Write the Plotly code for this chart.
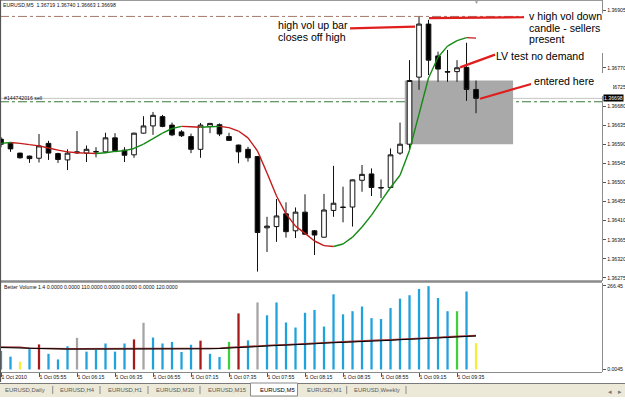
import plotly.graph_objects as go

# ---------------- data ----------------
bar_index = list(range(51))

opens = [1.36602, 1.36592, 1.36569, 1.36562, 1.36557, 1.36592, 1.36568, 1.36553, 1.36572, 1.36569,
         1.36573, 1.36572, 1.36605, 1.36576, 1.36565, 1.36616, 1.36633, 1.36655, 1.36635, 1.36619,
         1.36608, 1.36578, 1.36632, 1.36636, 1.36608, 1.36588, 1.36578, 1.36561, 1.36393, 1.36396,
         1.36426, 1.36386, 1.36430, 1.36386, 1.36371, 1.36434, 1.36442, 1.36442, 1.36505, 1.36520,
         1.36488, 1.36488, 1.36569, 1.36590, 1.36748, 1.36873, 1.36798, 1.36761, 1.36761, 1.36771,
         1.36719]
highs = [1.36607, 1.36594, 1.36570, 1.36563, 1.36614, 1.36598, 1.36570, 1.36578, 1.36621, 1.36587,
         1.36583, 1.36617, 1.36616, 1.36583, 1.36617, 1.36656, 1.36666, 1.36659, 1.36641, 1.36623,
         1.36615, 1.36640, 1.36640, 1.36639, 1.36617, 1.36589, 1.36584, 1.36562, 1.36419, 1.36461,
         1.36453, 1.36441, 1.36472, 1.36388, 1.36473, 1.36539, 1.36490, 1.36507, 1.36541, 1.36533,
         1.36507, 1.36580, 1.36641, 1.36788, 1.36890, 1.36883, 1.36808, 1.36812, 1.36788, 1.36829,
         1.36740]
lows = [1.36583, 1.36572, 1.36556, 1.36546, 1.36547, 1.36553, 1.36546, 1.36529, 1.36567, 1.36548,
        1.36559, 1.36569, 1.36572, 1.36548, 1.36558, 1.36615, 1.36612, 1.36630, 1.36609, 1.36607,
        1.36569, 1.36558, 1.36616, 1.36609, 1.36598, 1.36545, 1.36549, 1.36290, 1.36336, 1.36360,
        1.36370, 1.36369, 1.36377, 1.36329, 1.36370, 1.36419, 1.36406, 1.36396, 1.36478, 1.36468,
        1.36463, 1.36488, 1.36565, 1.36576, 1.36718, 1.36753, 1.36737, 1.36737, 1.36737, 1.36692,
        1.36663]
closes = [1.36590, 1.36579, 1.36558, 1.36556, 1.36586, 1.36569, 1.36554, 1.36569, 1.36570, 1.36578,
          1.36572, 1.36605, 1.36575, 1.36564, 1.36616, 1.36633, 1.36658, 1.36632, 1.36612, 1.36610,
          1.36578, 1.36635, 1.36639, 1.36614, 1.36599, 1.36572, 1.36558, 1.36382, 1.36397, 1.36421,
          1.36384, 1.36430, 1.36378, 1.36376, 1.36435, 1.36451, 1.36441, 1.36506, 1.36519, 1.36488,
          1.36487, 1.36565, 1.36590, 1.36740, 1.36873, 1.36788, 1.36767, 1.36760, 1.36770, 1.36719,
          1.36698]

ma_values = [1.36592, 1.36594, 1.36592, 1.36589, 1.36586, 1.36581, 1.36576, 1.36572, 1.36570, 1.36569,
             1.36568, 1.36570, 1.36573, 1.36575, 1.36580, 1.36590, 1.36603, 1.36616, 1.36627, 1.36632,
             1.36631, 1.36630, 1.36631, 1.36632, 1.36629, 1.36621, 1.36605, 1.36574, 1.36522, 1.36468,
             1.36426, 1.36397, 1.36380, 1.36362, 1.36351, 1.36349, 1.36355, 1.36371, 1.36395, 1.36423,
             1.36456, 1.36488, 1.36517, 1.36576, 1.36661, 1.36746, 1.36795, 1.36821, 1.36834, 1.36841,
             1.36840]

volumes = [59, 41, 25, 65, 80, 50, 32, 74, 101, 57,
           63, 83, 57, 83, 96, 149, 102, 83, 88, 56,
           79, 92, 50, 40, 88, 179, 93, 214, 173, 214,
           150, 134, 181, 190, 137, 240, 176, 186, 201, 164,
           161, 196, 226, 237, 257, 266, 228, 186, 186, 249,
           84]
vol_signal = ["neutral", "neutral", "low", "neutral", "climax_up", "neutral", "neutral", "neutral", "climax_down", "neutral",
              "neutral", "neutral", "neutral", "neutral", "climax_up", "climax_down", "neutral", "neutral", "neutral", "neutral",
              "neutral", "climax_up", "neutral", "neutral", "churn", "climax_up", "neutral", "climax_down", "neutral", "neutral",
              "neutral", "neutral", "neutral", "neutral", "neutral", "neutral", "neutral", "neutral", "neutral", "neutral",
              "neutral", "neutral", "neutral", "neutral", "neutral", "neutral", "neutral", "neutral", "churn", "neutral",
              "low"]
vol_avg_black = [70, 69, 68, 67, 66, 66, 66, 65, 65, 65, 65, 65, 64, 64, 64, 65, 65, 65, 66, 66,
                 66, 66, 66, 67, 68, 70, 71, 73, 75, 76, 77, 79, 80, 82, 84, 85, 87, 88, 89, 91,
                 92, 93, 95, 96, 98, 99, 101, 102, 104, 105, 107]
vol_avg_red = [72, 72, 71, 68, 67, 67, 67, 66, 66, 66, 66, 66, 66, 66, 66, 67, 67, 67, 67, 67,
               67, 67, 67, 68, 70, 72, 73, 75, 77, 78, 79, 81, 82, 84, 86, 87, 88, 90, 91, 92,
               94, 95, 96, 98, 99, 101, 102, 104, 105, 107, 108]

time_tick_bars = [0, 4, 8, 12, 16, 20, 24, 28, 32, 36, 40, 44, 48]
time_tick_labels = ["1 Oct 2010", "1 Oct 05:55", "1 Oct 06:15", "1 Oct 06:35", "1 Oct 06:55",
                    "1 Oct 07:15", "1 Oct 07:35", "1 Oct 07:55", "1 Oct 08:15", "1 Oct 08:35",
                    "1 Oct 08:55", "1 Oct 09:15", "1 Oct 09:35"]
price_ticks = [1.36275, 1.36320, 1.36365, 1.36410, 1.36455, 1.36500, 1.36545, 1.36590,
               1.36635, 1.36680, 1.36725, 1.36770, 1.36815, 1.36860, 1.36905]
vol_tick_vals = [0, 266.45]
vol_tick_labels = ["0.0045", "266.45"]
tab_names = ["EURUSD,Daily", "EURUSD,H4", "EURUSD,H1", "EURUSD,M30", "EURUSD,M15",
             "EURUSD,M5", "EURUSD,M1", "EURUSD,Weekly"]

title_text = "EURUSD,M5  1.36719 1.36740 1.36663 1.36698"
indicator_text = "Better Volume 1.4 0.0000 0.0000 110.0000 0.0000 0.0000 0.0000 120.0000"
order_text = "#144742016 sell"
bid_price = 1.36698
order_price = 1.36690
stop_price = 1.36891
box_bars = [42.5, 53.9]
box_prices = [1.36590, 1.36740]

# ---------------- layout constants ----------------
W, H = 625, 417
FONT = "Liberation Sans, Arial, sans-serif"


def px(xp):
    return xp / W


def py(yp):
    return 1 - yp / H


X_RANGE = [-0.105, 63.26]
Y_RANGE = [1.3626778, 1.3692969]
V_RANGE = [-8, 276]
XDOM = [0, px(602)]

sig_colors = {"neutral": "#20A2DC", "low": "#F4F03A", "climax_up": "#A81818",
              "climax_down": "#A4A4A4", "churn": "#3CD23C"}

fig = go.Figure()

fig.add_trace(go.Candlestick(
    x=bar_index, open=opens, high=highs, low=lows, close=closes,
    increasing=dict(line=dict(color="#111111", width=1), fillcolor="#FFFFFF"),
    decreasing=dict(line=dict(color="#111111", width=1), fillcolor="#000000"),
    whiskerwidth=0, xaxis="x", yaxis="y", hoverinfo="skip"))

# colored moving average
gx, gy, rx, ry = [], [], [], []
for i in range(len(ma_values) - 1):
    if ma_values[i + 1] >= ma_values[i]:
        gx += [bar_index[i], bar_index[i + 1], None]
        gy += [ma_values[i], ma_values[i + 1], None]
    else:
        rx += [bar_index[i], bar_index[i + 1], None]
        ry += [ma_values[i], ma_values[i + 1], None]
fig.add_trace(go.Scatter(x=rx, y=ry, mode="lines", line=dict(color="#C41A1A", width=1.4),
                         xaxis="x", yaxis="y", hoverinfo="skip"))
fig.add_trace(go.Scatter(x=gx, y=gy, mode="lines", line=dict(color="#138A13", width=1.4),
                         xaxis="x", yaxis="y", hoverinfo="skip"))

# volume
fig.add_trace(go.Bar(x=bar_index, y=volumes, width=0.24,
                     marker=dict(color=[sig_colors[s] for s in vol_signal], line=dict(width=0)),
                     xaxis="x2", yaxis="y2", hoverinfo="skip"))
fig.add_trace(go.Scatter(x=bar_index, y=vol_avg_red, mode="lines", line=dict(color="#A03838", width=1.6),
                         xaxis="x2", yaxis="y2", hoverinfo="skip"))
fig.add_trace(go.Scatter(x=bar_index, y=vol_avg_black, mode="lines", line=dict(color="#000000", width=1),
                         xaxis="x2", yaxis="y2", hoverinfo="skip"))

shapes = []
# grey box
shapes.append(dict(type="rect", xref="x", yref="y", x0=box_bars[0], x1=box_bars[1],
                   y0=box_prices[0], y1=box_prices[1], fillcolor="#A9A9A9", line=dict(width=0), layer="below"))
# horizontal price lines
shapes.append(dict(type="line", xref="paper", yref="y", x0=0, x1=px(602), y0=bid_price, y1=bid_price,
                   line=dict(color="#C4C4C4", width=1), layer="below"))
shapes.append(dict(type="line", xref="paper", yref="y", x0=0, x1=px(602), y0=order_price, y1=order_price,
                   line=dict(color="#3A7A3A", width=1, dash="dashdot"), layer="below"))
shapes.append(dict(type="line", xref="paper", yref="y", x0=0, x1=px(602), y0=stop_price, y1=stop_price,
                   line=dict(color="#A87868", width=1, dash="dashdot"), layer="below"))
# red annotation lines (bar, price)
red_lines = [((36.74, 1.36863), (43.58, 1.36867)),
             ((45.05, 1.36887), (55.05, 1.36889)),
             ((48.32, 1.36771), (52.0, 1.36801)),
             ((50.42, 1.36697), (56.0, 1.36733))]
for (a, b) in red_lines:
    shapes.append(dict(type="line", xref="x", yref="y", x0=a[0], y0=a[1], x1=b[0], y1=b[1],
                       line=dict(color="#E01E1E", width=2.2), layer="above"))
# white pasted text backgrounds
shapes.append(dict(type="rect", xref="paper", yref="paper", x0=px(524), x1=px(625), y0=py(53), y1=py(13.5),
                   fillcolor="#FFFFFF", line=dict(width=0), layer="above"))
shapes.append(dict(type="rect", xref="paper", yref="paper", x0=px(531), x1=px(613), y0=py(96), y1=py(73),
                   fillcolor="#FFFFFF", line=dict(width=0), layer="above"))
# window borders / separators
shapes.append(dict(type="line", xref="paper", yref="paper", x0=0, x1=px(602), y0=py(281.5), y1=py(281.5),
                   line=dict(color="#8A8A8A", width=2.5)))
shapes.append(dict(type="line", xref="paper", yref="paper", x0=0, x1=px(602), y0=py(372.5), y1=py(372.5),
                   line=dict(color="#8A8A8A", width=1.2)))
shapes.append(dict(type="line", xref="paper", yref="paper", x0=0, x1=px(602), y0=py(0.5), y1=py(0.5),
                   line=dict(color="#9A9A9A", width=1)))
shapes.append(dict(type="line", xref="paper", yref="paper", x0=px(0.5), x1=px(0.5), y0=py(382), y1=py(0),
                   line=dict(color="#555555", width=1.2)))
# tab bar
shapes.append(dict(type="rect", xref="paper", yref="paper", x0=0, x1=1, y0=py(397), y1=py(383),
                   fillcolor="#ECE9D8", line=dict(width=0)))
shapes.append(dict(type="line", xref="paper", yref="paper", x0=0, x1=1, y0=py(383.5), y1=py(383.5),
                   line=dict(color="#7A7A7A", width=1)))
shapes.append(dict(type="rect", xref="paper", yref="paper", x0=px(250.5), x1=px(297.5), y0=py(396), y1=py(383),
                   fillcolor="#FFFFFF", line=dict(color="#8A8A8A", width=1)))
for sx in [52.7, 100, 148, 200, 346.7, 406]:
    shapes.append(dict(type="line", xref="paper", yref="paper", x0=px(sx), x1=px(sx), y0=py(394), y1=py(386),
                       line=dict(color="#8C8C8C", width=1)))

annotations = []


def txt(x, y, text, size, color="#000000", xanchor="left", **kw):
    annotations.append(dict(xref="paper", yref="paper", x=px(x), y=py(y), text=text, showarrow=False,
                            xanchor=xanchor, yanchor="middle", font=dict(family=FONT, size=size, color=color),
                            **kw))


txt(1, 5, title_text, 5.2, "#111111")
txt(2, 97.5, order_text, 5.2, "#111111")
txt(2, 287, indicator_text, 5.2, "#111111")
txt(476, 2.5, "▼", 5, "#9A9A9A", xanchor="center")

# pasted comments
CF = 10.6
txt(276, 25, "high vol up bar", CF)
txt(276, 36.5, "closes off high", CF)
txt(527, 16, "v high vol down", CF)
txt(527, 28, "candle - sellers", CF)
txt(527, 39.5, "present", CF)
txt(494, 55.5, "LV test no demand", CF)
txt(532, 81, "entered here", CF)

# current price tag
annotations.append(dict(xref="paper", yref="y", x=px(603), y=bid_price, text="1.36698", showarrow=False,
                        xanchor="left", yanchor="middle", bgcolor="#000000", borderpad=0,
                        font=dict(family=FONT, size=5.2, color="#FFFFFF")))

# tabs
tab_x = [3, 58, 106, 154, 206, 258, 305, 352]
for name, tx in zip(tab_names, tab_x):
    txt(tx, 390, name, 5.9, "#000000" if name == "EURUSD,M5" else "#5A5A5A")
txt(610, 391, "◂", 7, "#777777", xanchor="center")
txt(620, 391, "▸", 7, "#777777", xanchor="center")

axis_font = dict(family=FONT, size=5.2, color="#111111")

fig.update_layout(
    width=W, height=H, autosize=False,
    margin=dict(l=0, r=0, t=0, b=0, pad=0),
    paper_bgcolor="#FFFFFF", plot_bgcolor="#FFFFFF",
    showlegend=False, hovermode=False,
    xaxis=dict(domain=XDOM, range=X_RANGE, anchor="y", showticklabels=False, showgrid=False,
               zeroline=False, showline=False, ticks="", rangeslider=dict(visible=False), fixedrange=True),
    yaxis=dict(domain=[py(281), 1], range=Y_RANGE, anchor="x", side="right",
               tickvals=price_ticks, ticktext=["%.5f" % v for v in price_ticks],
               ticks="outside", ticklen=3, tickcolor="#555555", tickfont=axis_font,
               showline=True, linecolor="#8C8C8C", linewidth=1.2, showgrid=False, zeroline=False,
               fixedrange=True),
    xaxis2=dict(domain=XDOM, range=X_RANGE, anchor="y2", showgrid=False, zeroline=False, showline=False,
                tickvals=time_tick_bars, ticktext=time_tick_labels, ticks="outside", ticklen=4,
                tickcolor="#555555", tickfont=axis_font, ticklabelposition="outside right",
                fixedrange=True),
    yaxis2=dict(domain=[py(372), py(283)], range=V_RANGE, anchor="x2", side="right",
                tickvals=vol_tick_vals, ticktext=vol_tick_labels, ticks="outside", ticklen=3,
                tickcolor="#555555", tickfont=axis_font, showline=True, linecolor="#8C8C8C",
                linewidth=1.2, showgrid=False, zeroline=False, fixedrange=True),
    shapes=shapes,
    annotations=annotations,
)

fig.write_html("out.html")
